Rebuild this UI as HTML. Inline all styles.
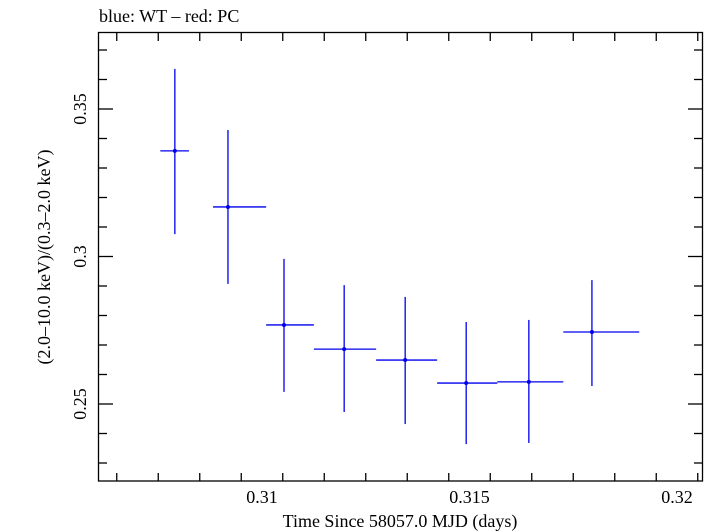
<!DOCTYPE html>
<html><head><meta charset="utf-8"><style>
body{margin:0;background:#fff}
svg{display:block;font-family:"Liberation Serif",serif}
</style></head><body>
<svg id="c" width="709" height="532">
<text x="99" y="22" font-size="18">blue: WT – red: PC</text>
<rect x="98.5" y="32.5" width="604" height="448.5" fill="none" stroke="#000" stroke-width="1.3"/>
<g id="ax"></g><g id="pts"></g>
<text x="400" y="527" font-size="18" text-anchor="middle">Time Since 58057.0 MJD (days)</text>
<text transform="translate(50,257) rotate(-90)" font-size="18" text-anchor="middle">(2.0–10.0 keV)/(0.3–2.0 keV)</text>
</svg>
<script>
const xs=[0.30790,0.30918,0.31053,0.31198,0.31345,0.31492,0.31643,0.31795];
const xlo=[0.30755,0.30882,0.31010,0.31125,0.31275,0.31422,0.31567,0.31726];
const xhi=[0.30824,0.31010,0.31125,0.31275,0.31422,0.31567,0.31726,0.31909];
const ys=[0.3358,0.3168,0.2768,0.2686,0.2649,0.2571,0.2575,0.2744];
const ylo=[0.3076,0.2907,0.2541,0.2473,0.2432,0.2364,0.2368,0.2561];
const yhi=[0.3636,0.3429,0.2992,0.2903,0.2863,0.2778,0.2785,0.2920];
const xTicks=[0.31,0.315,0.32];
const xTickLabels=["0.31","0.315","0.32"];
const yTicks=[0.25,0.3,0.35];
const yTickLabels=["0.25","0.3","0.35"];
const X=v=>262+(v-0.31)*41500, Y=v=>109-(v-0.35)*2950;
const NS="http://www.w3.org/2000/svg";
function mk(p,t,a){const e=document.createElementNS(NS,t);for(const k in a)e.setAttribute(k,a[k]);p.appendChild(e);return e;}
const ax=document.getElementById('ax'),pts=document.getElementById('pts');
for(let i=0;i<15;i++){const v=0.3065+i*0.001;const px=X(v);if(px<99||px>702)continue;
 const major=xTicks.some(t=>Math.abs(t-v)<1e-7);const L=major?14:8;
 let e=mk(ax,'line',{x1:px,x2:px,y1:481,y2:481-L,stroke:'#000','stroke-width':1.3});
 
 
 e=mk(ax,'line',{x1:px,x2:px,y1:33,y2:33+L,stroke:'#000','stroke-width':1.3});
 
 }
xTicks.forEach((t,i)=>{const e=mk(ax,'text',{x:X(t),y:503,'font-size':18,'text-anchor':'middle'});e.textContent=xTickLabels[i];
 
 });
for(let i=0;i<16;i++){const v=0.23+i*0.01;const py=Y(v);if(py<33||py>481)continue;
 const major=yTicks.some(t=>Math.abs(t-v)<1e-7);const L=major?14:8;
 let e=mk(ax,'line',{x1:99,x2:99+L,y1:py,y2:py,stroke:'#000','stroke-width':1.3});
 
 
 e=mk(ax,'line',{x1:702,x2:702-L,y1:py,y2:py,stroke:'#000','stroke-width':1.3});
 
 }
yTicks.forEach((t,i)=>{const e=mk(ax,'text',{transform:`translate(86,${Y(t)}) rotate(-90)`,'font-size':18,'text-anchor':'middle'});e.textContent=yTickLabels[i];
 
 });
xs.forEach((x,i)=>{const g=mk(pts,'g',{stroke:'#0000ee','stroke-width':1.3});
 
 
 mk(g,'line',{x1:X(xlo[i]),x2:X(xhi[i]),y1:Y(ys[i]),y2:Y(ys[i])});
 mk(g,'line',{x1:X(x),x2:X(x),y1:Y(ylo[i]),y2:Y(yhi[i])});
 mk(g,'circle',{cx:X(x),cy:Y(ys[i]),r:2,fill:'#0000ee',stroke:'none'});});
</script>
</body></html>
